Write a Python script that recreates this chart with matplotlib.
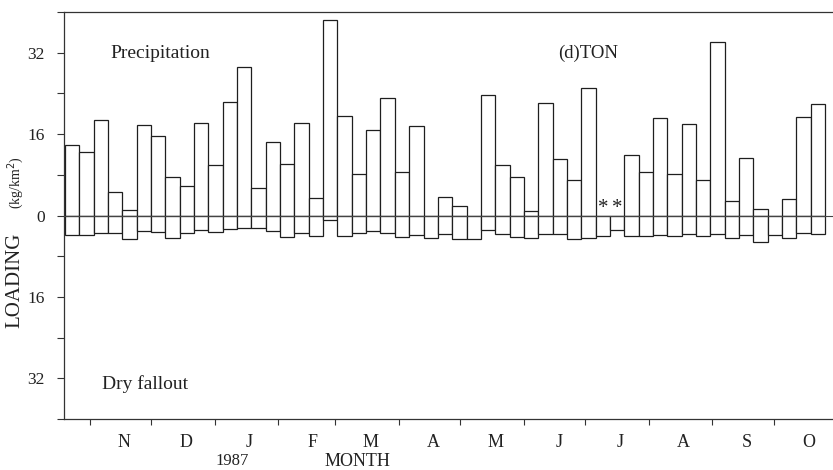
import matplotlib
matplotlib.use('Agg')
import matplotlib.pyplot as plt
import matplotlib.dates as mdates
from matplotlib.ticker import FixedLocator, MultipleLocator, NullFormatter
import numpy as np
import pandas as pd

# ---- data -------------------------------------------------------------
week_start = '1986-10-20'
precipitation = [13.8, 12.5, 18.8, 4.6, 1.0, 17.8, 15.6, 7.5, 5.8, 18.2,
                 9.9, 22.3, 29.2, 5.4, 14.5, 10.2, 18.2, 3.4, 38.5, 19.5,
                 8.2, 16.9, 23.1, 8.5, 17.6, 0.0, 3.6, 1.8, 0.0, 23.7,
                 10.0, 7.6, 0.9, 22.1, 11.1, 6.9, 25.1, np.nan, np.nan, 11.9,
                 8.6, 19.1, 8.1, 17.9, 6.9, 34.1, 2.9, 11.3, 1.2, 0.0,
                 3.3, 19.3, 21.9]
dry_fallout = [3.8, 3.9, 3.5, 3.4, 4.6, 3.0, 3.3, 4.4, 3.5, 2.8,
               3.3, 2.7, 2.5, 2.5, 3.1, 4.2, 3.4, 4.0, 0.8, 4.0,
               3.5, 3.1, 3.5, 4.2, 3.9, 4.5, 3.6, 4.7, 4.6, 2.9,
               3.6, 4.3, 4.4, 3.7, 3.7, 4.6, 4.4, 4.1, 2.8, 4.1,
               4.0, 3.9, 4.1, 3.6, 4.0, 3.6, 4.5, 3.8, 5.2, 3.8,
               4.4, 3.4, 3.7]
month_labels = ['N', 'D', 'J', 'F', 'M', 'A', 'M', 'J', 'J', 'A', 'S', 'O']
first_month = '1986-11-01'
y_ticks = [-32, -16, 0, 16, 32]

# ---- derived ----------------------------------------------------------
weeks = pd.date_range(week_start, periods=len(precipitation), freq='7D')
x = mdates.date2num(weeks.to_pydatetime())
months = pd.date_range(first_month, periods=len(month_labels), freq='MS')
mx = mdates.date2num(months.to_pydatetime())
prec = np.array(precipitation, dtype=float)
missing = np.where(np.isnan(prec))[0]
prec = np.nan_to_num(prec)
dry = -np.array(dry_fallout, dtype=float)

plt.rcParams['font.family'] = ['Liberation Serif', 'DejaVu Serif']
W, H = 833, 470
fig = plt.figure(figsize=(W / 100, H / 100), dpi=100)
ax = fig.add_axes([64 / W, 1 - 419 / H, (W - 64) / W, (419 - 12) / H])

ec = '#1e1e1e'
ax.bar(x, prec, width=7, align='edge', facecolor='white', edgecolor=ec, linewidth=0.9, zorder=2)
ax.bar(x, dry, width=7, align='edge', facecolor='white', edgecolor=ec, linewidth=0.9, zorder=2)
ax.axhline(0, color='#444444', linewidth=0.8, zorder=3)

for i in missing:
    ax.text(x[i] + 3.5, 0.4, '*', ha='center', va='baseline', fontsize=15, color='#222222')

ax.set_xlim(x[0] - 0.5, x[0] + 374.9)
ax.set_ylim(-40, 40)

ax.yaxis.set_major_locator(FixedLocator(y_ticks))
ax.set_yticklabels([str(abs(v)) for v in y_ticks])
ax.yaxis.set_minor_locator(MultipleLocator(8))
ax.tick_params(axis='y', which='both', direction='out', length=5, width=0.8,
               colors='#333333', labelsize=12.5, pad=9, labelcolor='#222222')

ax.xaxis.set_major_locator(FixedLocator(mx))
ax.xaxis.set_major_formatter(NullFormatter())
ax.xaxis.set_minor_locator(FixedLocator(mx + 17))
ax.xaxis.set_minor_formatter(plt.FixedFormatter(month_labels))
ax.tick_params(axis='x', which='major', direction='out', length=4, width=0.8, colors='#333333')
ax.tick_params(axis='x', which='minor', length=0, pad=11, labelsize=13, labelcolor='#222222')

for s in ['left', 'top', 'bottom']:
    ax.spines[s].set_color('#333333')
    ax.spines[s].set_linewidth(0.9)
ax.spines['right'].set_visible(False)

def fx(px):
    return px / W

def fy(py):
    return 1 - py / H

fig.text(fx(110), fy(58), 'Precipitation', fontsize=14, va='baseline', ha='left', color='#222222')
fig.text(fx(558), fy(58), '(d)TON', fontsize=13.5, va='baseline', ha='left', color='#222222')
fig.text(fx(102), fy(389), 'Dry fallout', fontsize=14, va='baseline', ha='left', color='#222222')
fig.text(fx(232), fy(461), '1987', fontsize=12, ha='center', va='center', color='#222222')
fig.text(fx(357), fy(461), 'MONTH', fontsize=13, ha='center', va='center', color='#222222')
fig.text(fx(15), fy(280), 'LOADING', fontsize=15, rotation=90, ha='center', va='center', color='#222222')
fig.text(fx(16), fy(183), '(kg/km$^2$)', fontsize=10, rotation=90, ha='center', va='center', color='#222222')

fig.savefig('out.png', dpi=100, facecolor='white')
